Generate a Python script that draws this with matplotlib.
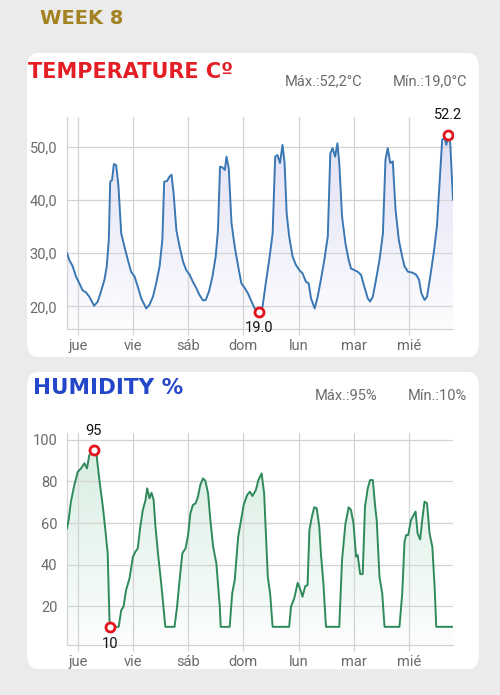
import numpy as np
import matplotlib
matplotlib.use("Agg")
import matplotlib.pyplot as plt
from matplotlib.patches import FancyBboxPatch
from matplotlib.colors import to_rgb

# horas desde jue 00:00
temp_hours = [-4.8, -3.8, -2.3, -0.9, 0.6, 2.0, 3.5, 4.9, 7.0, 8.6, 10.0, 11.5, 12.5, 13.4, 14.0,
              14.8, 15.6, 16.6, 17.6, 18.8, 20.2, 21.7, 23.1, 24.6, 26.0, 27.5, 29.7, 31.1, 32.6,
              34.0, 35.5, 36.7, 37.5, 38.7, 39.9, 40.7, 41.6, 42.8, 44.2, 45.7, 47.1, 48.6, 50.0,
              51.5, 52.9, 54.4, 55.6, 57.0, 58.5, 59.9, 60.9, 61.8, 62.8, 63.9, 64.6, 65.6, 66.8,
              68.2, 69.7, 71.1, 72.6, 74.0, 75.5, 76.9, 78.8, 80.3, 81.7, 83.2, 84.7, 85.8, 86.8,
              87.9, 89.0, 89.9, 90.8, 91.9, 93.4, 94.8, 96.3, 97.7, 99.2, 100.4, 101.4, 103.0,
              104.3, 105.7, 107.2, 108.7, 109.8, 110.8, 111.9, 112.9, 113.7, 114.9, 116.4, 117.8,
              118.8, 120.3, 121.7, 123.2, 124.6, 126.1, 127.1, 128.3, 129.7, 131.2, 132.7, 133.8,
              134.8, 135.9, 137.0, 138.2, 139.6, 141.1, 142.1, 143.6, 145.7, 147.2, 148.4, 149.4,
              150.8, 151.9, 153.3, 154.8, 156.2, 157.7, 158.5, 159.6, 160.3, 161.2, 162.0, 163.2]
temp_vals = [30.0, 28.7, 27.5, 25.6, 24.3, 23.0, 22.6, 21.8, 20.1, 20.9, 22.8, 25.0, 27.5, 32.5, 43.4,
             43.7, 46.7, 46.5, 42.5, 33.7, 31.2, 28.7, 26.5, 25.6, 23.7, 21.5, 19.6, 20.3, 21.8,
             24.3, 27.5, 32.5, 43.4, 43.5, 44.4, 44.7, 41.2, 34.3, 31.2, 28.4, 26.8, 25.9, 24.6,
             23.4, 22.1, 21.1, 21.2, 22.8, 25.6, 29.3, 34.3, 46.2, 46.1, 45.6, 48.1, 45.9, 35.6,
             31.2, 27.5, 24.3, 23.4, 22.4, 20.9, 19.6, 19.0, 19.9, 24.3, 28.7, 33.7, 48.1, 48.4,
             46.9, 50.3, 46.9, 37.5, 33.1, 29.3, 27.8, 26.8, 26.2, 24.6, 24.3, 21.5, 19.6,
             21.8, 25.0, 28.7, 33.1, 48.7, 49.7, 48.1, 50.6, 46.9, 36.9, 31.8, 28.7,
             27.1, 26.8, 26.5, 25.9, 23.7, 21.5, 20.9, 21.8, 25.0, 28.7, 33.7, 47.5,
             49.7, 46.9, 47.2, 38.1, 32.5, 29.3, 27.5, 26.5, 26.3, 25.9, 25.0, 22.5,
             21.2, 21.8, 25.6, 30.0, 35.0, 45.6, 51.3, 51.6, 50.3, 52.2, 50.6, 40.0]

hum_hours = [-4.8, -4.1, -3.1, -1.6, -0.1, 1.3, 2.8, 3.9, 4.9, 6.1, 6.8, 7.9, 9.3, 10.8, 11.9, 12.9,
             13.7, 14.0, 17.7, 18.8, 19.8, 20.9, 22.4, 23.9, 25.0, 26.0, 27.1, 28.2, 29.4, 30.1,
             31.1, 32.0, 32.9, 33.7, 34.8, 36.2, 38.0, 42.0, 43.1, 44.2, 45.4, 46.8, 47.9, 48.9,
             50.0, 51.2, 52.2, 53.2, 54.4, 55.4, 56.6, 57.6, 58.8, 60.2, 61.7, 62.1, 66.0, 67.1,
             68.2, 69.7, 70.7, 72.1, 73.6, 74.8, 75.9, 77.4, 78.5, 79.9, 81.0, 81.7, 82.6, 83.6,
             84.7, 91.9, 92.7, 94.1, 95.6, 96.6, 97.7, 98.9, 99.9, 100.7, 101.8, 102.8, 103.9,
             105.0, 105.7, 106.8, 107.9, 113.7, 114.9, 116.4, 117.8, 118.8, 119.9, 121.0, 121.7,
             122.8, 123.9, 124.9, 126.1, 127.1, 128.3, 129.4, 130.0, 131.2, 132.4, 133.4, 139.9,
             141.1, 142.1, 142.8, 143.7, 144.9, 145.7, 146.9, 147.8, 148.9, 149.8, 150.8, 151.9,
             153.0, 154.2, 155.2, 155.9, 163.2]
hum_vals = [57.4, 61.4, 70.3, 78.3, 84.7, 86.3, 88.8, 86.3, 92.8, 93.6, 95.0, 94.4, 80.7, 67.9, 56.6, 45.4,
            13.3, 10.0, 10.0, 18.0, 19.7, 27.7, 33.3, 43.8, 46.2, 47.8, 58.2, 66.3, 71.1, 76.7,
            71.9, 74.6, 71.1, 58.2, 45.4, 30.9, 10.0, 10.0, 19.7, 32.5, 45.4, 47.8, 54.2, 64.7,
            68.7, 69.5, 72.7, 78.3, 81.5, 80.4, 74.3, 61.4, 48.6, 40.6, 19.7, 10.0, 10.0, 26.1,
            32.5, 53.4, 59.8, 68.7, 73.5, 75.1, 73.0, 75.9, 80.7, 83.9, 74.3, 56.6, 34.1, 26.1,
            10.0, 10.0, 19.7, 23.7, 31.2, 28.5, 24.5, 29.6, 30.1, 56.6, 63.1, 67.6, 67.1,
            58.2, 45.4, 30.9, 10.0, 10.0, 42.2, 59.8, 67.6, 66.3, 59.8, 43.8, 44.6,
            35.4, 35.4, 67.9, 76.7, 80.7, 80.7, 67.1, 61.4, 34.1, 26.1, 10.0, 10.0,
            26.1, 51.0, 54.2, 54.2, 61.4, 63.1, 65.5, 55.0, 52.1, 61.4, 70.3, 69.5,
            55.0, 48.6, 29.3, 10.0, 10.0]

day_labels = ["jue", "vie", "sáb", "dom", "lun", "mar", "mié"]
day_ticks = [0, 24, 48, 72, 96, 120, 144]
temp_yticks = [20, 30, 40, 50]
hum_yticks = [20, 40, 60, 80, 100]

BG = "#ebebeb"
GRID = "#d4d4d4"
TXT = "#6b6b6b"
plt.rcParams["font.family"] = ["Roboto", "DejaVu Sans"]

fig = plt.figure(figsize=(5, 6.95), dpi=100, facecolor=BG)


def px_box(x0, y0, x1, y1):
    # pixeles (origen arriba-izq) -> fraccion de figura
    return [x0 / 500, 1 - y1 / 695, (x1 - x0) / 500, (y1 - y0) / 695]


def coma(v, nd=1):
    return f"{v:.{nd}f}".replace(".", ",")


# tarjetas blancas
for (x0, y0, x1, y1) in [(27, 53, 479, 357), (27, 372, 479, 669)]:
    l, b, w, h = px_box(x0, y0, x1, y1)
    fig.patches.append(FancyBboxPatch((l, b), w, h, boxstyle="round,pad=0,rounding_size=0.022",
                                      transform=fig.transFigure, facecolor="white",
                                      edgecolor="none", zorder=-1))


def gradient_fill(ax, x, y, color, ymin, ymax, alpha_top):
    poly = ax.fill_between(x, y, ymin, facecolor="none", edgecolor="none")
    z = np.zeros((100, 1, 4))
    z[:, :, :3] = to_rgb(color)
    z[:, 0, 3] = np.linspace(0.05, alpha_top, 100)
    im = ax.imshow(z, aspect="auto", origin="lower", zorder=1,
                   extent=[min(x), max(x), ymin, ymax])
    im.set_clip_path(poly.get_paths()[0], transform=ax.transData)


def setup(ax, ylim, yticks, fmt):
    ax.set_zorder(2)
    ax.set_xlim(-4.8, 163.2)
    ax.set_ylim(*ylim)
    ax.set_xticks(day_ticks)
    ax.set_xticklabels(day_labels)
    ax.set_yticks(yticks)
    ax.set_yticklabels([fmt(v) for v in yticks])
    ax.grid(True, color=GRID, lw=0.9)
    for s in ["top", "right"]:
        ax.spines[s].set_visible(False)
    for s in ["left", "bottom"]:
        ax.spines[s].set_color(GRID)
        ax.spines[s].set_linewidth(0.9)
    ax.tick_params(axis="x", colors=GRID, length=4, width=0.9, labelcolor=TXT, labelsize=10.5, pad=3)
    ax.tick_params(axis="y", length=0, labelcolor=TXT, labelsize=10.5, pad=7)
    ax.set_facecolor("none")


# ---- temperatura
ax1 = fig.add_axes(px_box(67, 116.7, 453, 329))
setup(ax1, (15.74, 55.6), temp_yticks, coma)
gradient_fill(ax1, temp_hours, temp_vals, "#c9c9f0", 15.74, 52.2, 0.55)
ax1.plot(temp_hours, temp_vals, color="#3a78b4", lw=1.4, zorder=3)
imax = int(np.argmax(temp_vals))
imin = int(np.argmin(temp_vals))
for i, dy, va in [(imax, 9, "bottom"), (imin, -7, "top")]:
    ax1.plot(temp_hours[i], temp_vals[i], "o", ms=6.5, mfc="white", mec="#e3141c", mew=2, zorder=4)
    ax1.annotate(f"{temp_vals[i]:.1f}", (temp_hours[i], temp_vals[i]), xytext=(0, dy),
                 textcoords="offset points", ha="center", va=va, fontsize=10.5, color="#111111")

# ---- humedad
ax2 = fig.add_axes(px_box(67, 432.7, 453, 645))
setup(ax2, (1.25, 103.5), hum_yticks, lambda v: f"{v}")
gradient_fill(ax2, hum_hours, hum_vals, "#bfe3d0", 1.25, 95, 0.6)
ax2.plot(hum_hours, hum_vals, color="#2f8a5b", lw=1.4, zorder=3)
imax = int(np.argmax(hum_vals))
imin = int(np.argmin(hum_vals))
for i, dy, va in [(imax, 9, "bottom"), (imin, -7, "top")]:
    ax2.plot(hum_hours[i], hum_vals[i], "o", ms=6.5, mfc="white", mec="#e3141c", mew=2, zorder=4)
    ax2.annotate(f"{hum_vals[i]:.0f}", (hum_hours[i], hum_vals[i]), xytext=(0, dy),
                 textcoords="offset points", ha="center", va=va, fontsize=10.5, color="#111111")

# ---- textos
fig.text(40 / 500, 1 - 19 / 695, "WEEK 8", fontsize=14, fontweight="bold", color="#a38221",
         family="DejaVu Sans", va="center")
fig.text(28 / 500, 1 - 72 / 695, "TEMPERATURE Cº", fontsize=15, fontweight="bold", color="#e41e25",
         family="DejaVu Sans", va="center")
fig.text(33 / 500, 1 - 388 / 695, "HUMIDITY %", fontsize=15.5, fontweight="bold", color="#2446c8",
         family="DejaVu Sans", va="center")

fig.text(362 / 500, 1 - 81 / 695, f"Máx.:{coma(max(temp_vals))}°C",
         ha="right", va="center", fontsize=10.5, color=TXT)
fig.text(467 / 500, 1 - 81 / 695, f"Mín.:{coma(min(temp_vals))}°C",
         ha="right", va="center", fontsize=10.5, color=TXT)
fig.text(377 / 500, 1 - 396 / 695, f"Máx.:{max(hum_vals):.0f}%", ha="right", va="center",
         fontsize=10.5, color=TXT)
fig.text(467 / 500, 1 - 396 / 695, f"Mín.:{min(hum_vals):.0f}%", ha="right", va="center",
         fontsize=10.5, color=TXT)

fig.savefig("out.png", dpi=100, facecolor=BG)
